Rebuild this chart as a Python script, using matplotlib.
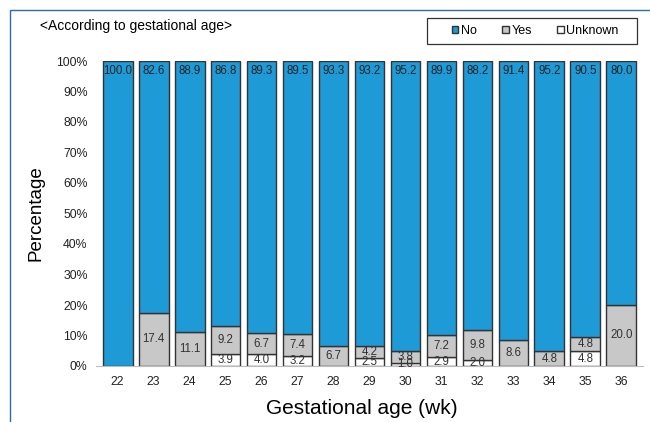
import numpy as np
import matplotlib.pyplot as plt
from matplotlib.patches import Rectangle

plt.rcParams['font.family'] = ['Liberation Sans', 'DejaVu Sans']

# data (percent)
weeks = ["22", "23", "24", "25", "26", "27", "28", "29", "30", "31", "32", "33", "34", "35", "36"]
no_vals = [100.0, 82.6, 88.9, 86.8, 89.3, 89.5, 93.3, 93.2, 95.2, 89.9, 88.2, 91.4, 95.2, 90.5, 80.0]
yes_vals = [0.0, 17.4, 11.1, 9.2, 6.7, 7.4, 6.7, 4.2, 3.8, 7.2, 9.8, 8.6, 4.8, 4.8, 20.0]
unk_vals = [0.0, 0.0, 0.0, 3.9, 4.0, 3.2, 0.0, 2.5, 1.0, 2.9, 2.0, 0.0, 0.0, 4.8, 0.0]

c_no = '#1E9AD6'
c_yes = '#C8C8C8'
c_unk = '#FFFFFF'
edge = '#333333'

W, H = 650, 422
fig = plt.figure(figsize=(6.5, 4.22), dpi=100)
ax = fig.add_axes([96 / W, 1 - 366 / H, 547 / W, 305 / H])

x = np.arange(len(weeks))
unk = np.array(unk_vals)
yes = np.array(yes_vals)
no = np.array(no_vals)
w = 0.83

b_unk = ax.bar(x, unk, w, color=c_unk, edgecolor=edge, linewidth=1.0, label='Unknown')
b_yes = ax.bar(x, yes, w, bottom=unk, color=c_yes, edgecolor=edge, linewidth=1.0, label='Yes')
b_no = ax.bar(x, no, w, bottom=unk + yes, color=c_no, edgecolor=edge, linewidth=1.0, label='No')

fs = 8.3
for i in range(len(weeks)):
    if unk[i] > 0:
        ax.text(x[i], unk[i] / 2, f"{unk[i]:.1f}", ha='center', va='center', fontsize=fs, color='#333333')
    if yes[i] > 0:
        ax.text(x[i], unk[i] + yes[i] / 2, f"{yes[i]:.1f}", ha='center', va='center', fontsize=fs, color='#333333')
    top = unk[i] + yes[i] + no[i]
    ax.text(x[i], top - 1.3, f"{no[i]:.1f}", ha='center', va='top', fontsize=fs, color='#222222')

ax.set_xlim(-0.6, 14.6)
ax.set_ylim(0, 100)
ax.set_yticks(np.arange(0, 101, 10))
ax.set_yticklabels([f"{v}%" for v in range(0, 101, 10)])
ax.set_xticks(x)
ax.set_xticklabels(weeks)
ax.tick_params(axis='both', length=0, labelsize=8.8, colors='#222222')
ax.tick_params(axis='x', pad=7)
ax.tick_params(axis='y', pad=6)
for s in ['top', 'right', 'left']:
    ax.spines[s].set_visible(False)
ax.spines['bottom'].set_color('#BBBBBB')

fig.text(36 / W, 1 - 213 / H, 'Percentage', fontsize=13.5, rotation=90, ha='center', va='center')
fig.text(362 / W, 1 - 408 / H, 'Gestational age (wk)', fontsize=15, ha='center', va='center')

fig.text(40 / W, 1 - 26 / H, '<According to gestational age>', fontsize=10, va='center', ha='left')

# legend box
fig.patches.append(Rectangle((427 / W, 1 - 44 / H), 210 / W, 26 / H, transform=fig.transFigure,
                             fill=False, edgecolor='#333333', linewidth=0.9))
handles = [b_no, b_yes, b_unk]
leg = fig.legend(handles, ['No', 'Yes', 'Unknown'], loc='center', ncol=3,
                 bbox_to_anchor=(535 / W, 1 - 31 / H), fontsize=9, frameon=False,
                 handlelength=0.55, handleheight=0.55,
                 handletextpad=0.2, columnspacing=2.0, borderpad=0.2)

# outer frame (cut off at right and bottom)
fig.patches.append(Rectangle((10 / W, -0.1), 1.2, 1 - 10 / H + 0.1, transform=fig.transFigure,
                             fill=False, edgecolor='#2B6EA8', linewidth=1.0))

fig.savefig('out.png', dpi=100)
